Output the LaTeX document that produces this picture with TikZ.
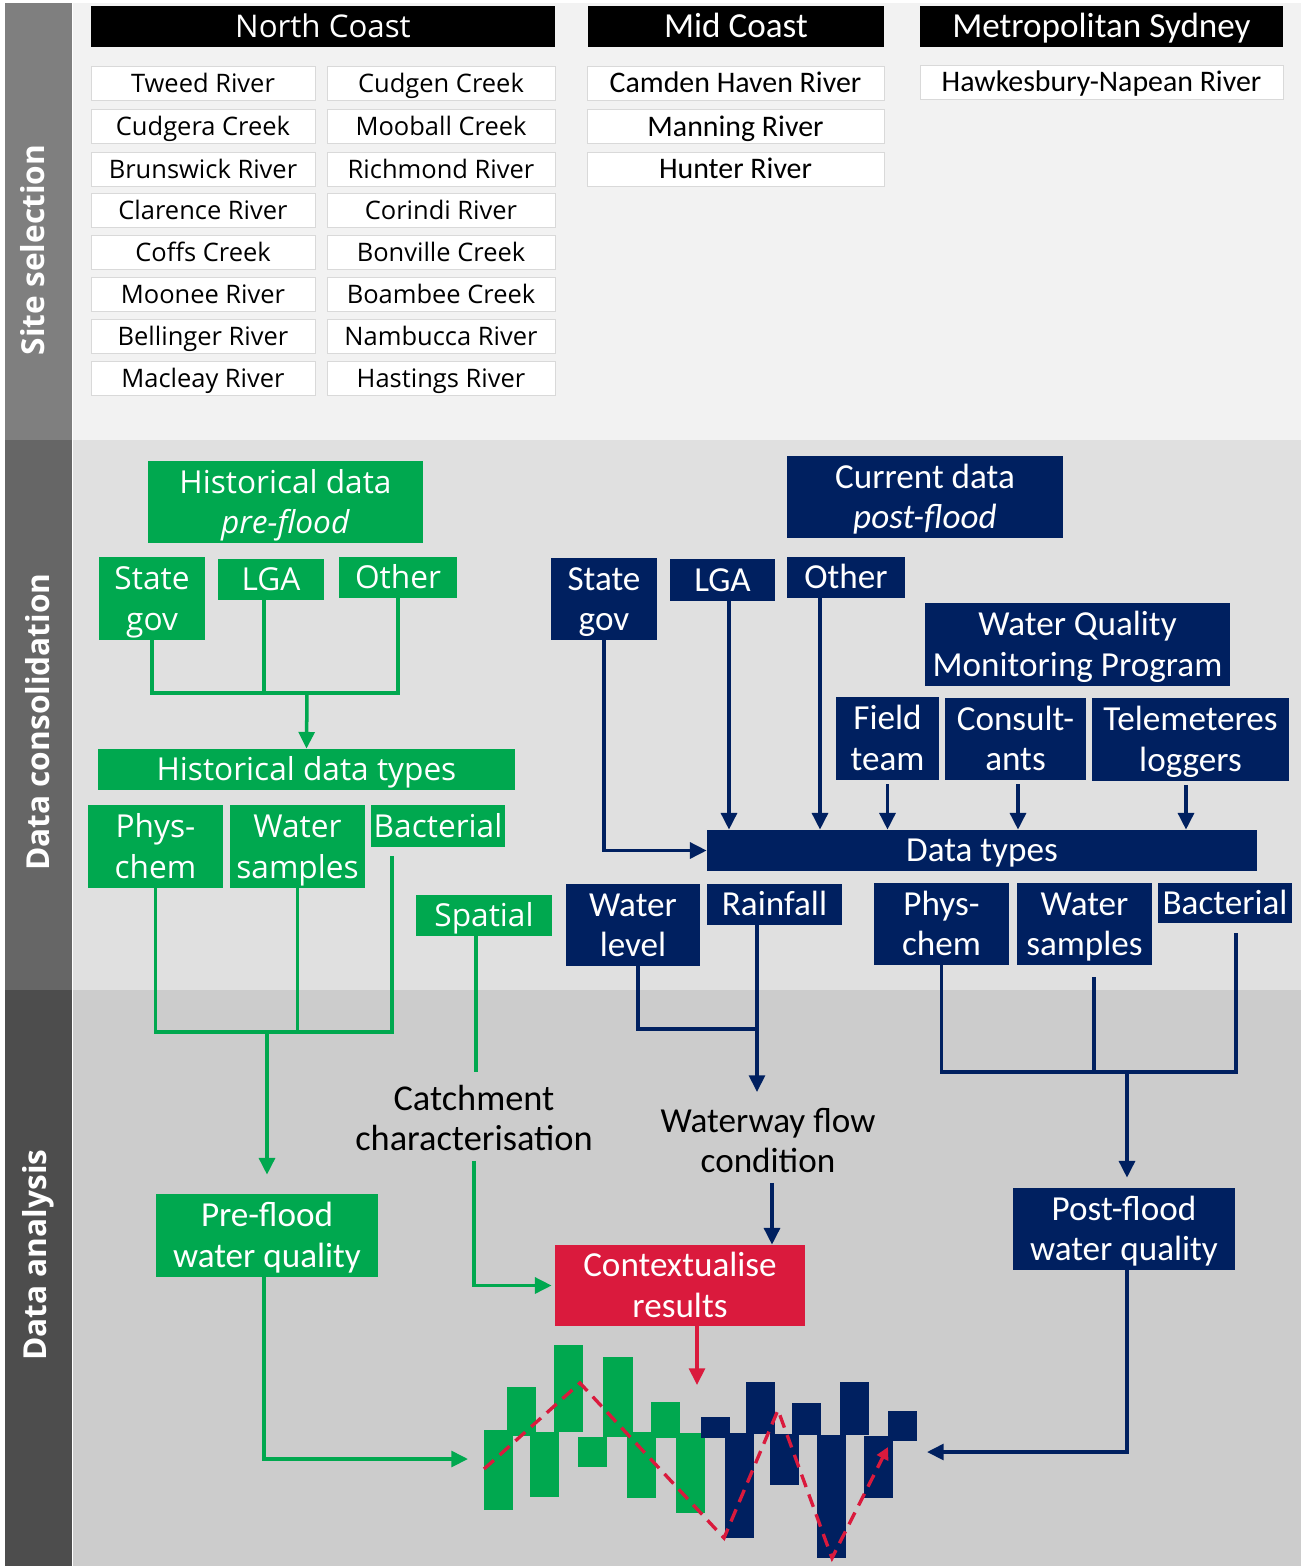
\documentclass[tikz,border=0pt]{standalone}
\usepackage{fontspec}
\setmainfont{Open Sans}
\newfontfamily\narrowfont{Carlito}
\usepackage{tikz}
\usetikzlibrary{positioning, arrows.meta}
\newcommand{\pxu}{0.02cm}

\tikzset{
    wh/.style 2 args={minimum width=#1*\pxu, minimum height=#2*\pxu},
    cell/.style={inner sep=0pt, align=center},
    one/.style={text height=12.85pt, text depth=0pt},
    two/.style={text height=35.85pt, text depth=0pt},
    regf/.style={font=\fontsize{18}{23}\selectfont},
    narf/.style={font=\narrowfont\fontsize{20}{23}\selectfont},
    hdr/.style={cell, one, fill=black, text=white},
    river/.style={cell, fill=white, draw=gray!30, line width=0.5pt, text height=10.4pt, text depth=0pt, font=\fontsize{14.5}{17}\selectfont},
    nriver/.style={river, text height=10.9pt, font=\narrowfont\fontsize{17}{20}\selectfont},
    gbox/.style={cell, fill=cGreen, text=white, regf},
    bbox/.style={cell, fill=cNavy, text=white, narf},
    rbox/.style={cell, fill=cRed, text=white, narf},
    txt/.style={cell, two, inner sep=5.7pt, narf},
    side/.style={rotate=90, text=white, font=\bfseries\fontsize{18}{20}\selectfont},
    gline/.style={draw=cGreen, line width=2pt},
    bline/.style={draw=cNavy, line width=2pt},
    garr/.style={gline, -{Triangle[length=9.5pt, width=9pt]}},
    barr/.style={bline, -{Triangle[length=9.5pt, width=9pt]}},
    rarr/.style={draw=cRed, line width=2pt, -{Triangle[length=9.5pt, width=9pt]}}
}

\begin{document}
\begin{tikzpicture}[x=0.02cm, y=-0.02cm]

\definecolor{cGreen}{HTML}{00A84F}
\definecolor{cNavy}{HTML}{002060}
\definecolor{cRed}{HTML}{DA1A3D}
\definecolor{cPanA}{HTML}{F2F2F2}
\definecolor{cPanB}{HTML}{E0E0E0}
\definecolor{cPanC}{HTML}{CCCCCC}
\definecolor{cSideA}{HTML}{7F7F7F}
\definecolor{cSideB}{HTML}{666666}
\definecolor{cSideC}{HTML}{4D4D4D}

\useasboundingbox (0,0) rectangle (1301,1566);

% columns and rows of the site list
\pgfmathsetmacro{\xA}{203}
\pgfmathsetmacro{\xB}{441}
\pgfmathsetmacro{\xC}{735.5}
\pgfmathsetmacro{\xD}{1101.5}
\pgfmathsetmacro{\yA}{83}
\pgfmathsetmacro{\yB}{126.5}
\pgfmathsetmacro{\yC}{169}
\pgfmathsetmacro{\yD}{210.5}
\pgfmathsetmacro{\yE}{252}
\pgfmathsetmacro{\yF}{294.5}
\pgfmathsetmacro{\yG}{336}
\pgfmathsetmacro{\yH}{378}

% BANDS
\fill[cPanA] (73,3) rectangle (1301,440);
\fill[cPanB] (73,440) rectangle (1301,990);
\fill[cPanC] (73,990) rectangle (1301,1566);
\fill[cSideA] (5,3) rectangle (72,440);
\fill[cSideB] (5,440) rectangle (72,990);
\fill[cSideC] (5,990) rectangle (72,1566);

\node[side] (sSite) at (33,250) {Site selection};
\node[side] (sCons) at (38,722) {Data consolidation};
\node[side] (sAna) at (38,1255) {Data analysis};

% Site selection
\node[hdr, wh={464}{41}, font=\fontsize{17.8}{20}\selectfont] (hNorth) at (323,26.5) {North Coast};
\node[hdr, wh={296}{41}, narf] (hMid) at (736,26.5) {Mid Coast};
\node[hdr, wh={363}{41}, narf] (hMetro) at (1101.5,26.5) {Metropolitan Sydney};

\node[river, wh={224}{34}] (rTweed) at (\xA,\yA) {Tweed River};
\node[river, wh={224}{34}] (rCudgera) at (\xA,\yB) {Cudgera Creek};
\node[river, wh={224}{34}] (rBruns) at (\xA,\yC) {Brunswick River};
\node[river, wh={224}{34}] (rClar) at (\xA,\yD) {Clarence River};
\node[river, wh={224}{34}] (rCoffs) at (\xA,\yE) {Coffs Creek};
\node[river, wh={224}{34}] (rMoonee) at (\xA,\yF) {Moonee River};
\node[river, wh={224}{34}] (rBell) at (\xA,\yG) {Bellinger River};
\node[river, wh={224}{34}] (rMacl) at (\xA,\yH) {Macleay River};

\node[river, wh={228}{34}] (rCudgen) at (\xB,\yA) {Cudgen Creek};
\node[river, wh={228}{34}] (rMoob) at (\xB,\yB) {Mooball Creek};
\node[river, wh={228}{34}] (rRich) at (\xB,\yC) {Richmond River};
\node[river, wh={228}{34}] (rCor) at (\xB,\yD) {Corindi River};
\node[river, wh={228}{34}] (rBonv) at (\xB,\yE) {Bonville Creek};
\node[river, wh={228}{34}] (rBoam) at (\xB,\yF) {Boambee Creek};
\node[river, wh={228}{34}] (rNamb) at (\xB,\yG) {Nambucca River};
\node[river, wh={228}{34}] (rHast) at (\xB,\yH) {Hastings River};

\node[nriver, wh={297}{34}] (rCamden) at (\xC,\yA) {Camden Haven River};
\node[nriver, wh={297}{34}] (rMann) at (\xC,\yB) {Manning River};
\node[nriver, wh={297}{34}] (rHunt) at (\xC,\yC) {Hunter River};
\node[nriver, wh={363}{34}] (rHawk) at (\xD,82) {Hawkesbury-Napean River};

% Historical data (green)
\node[gbox, two, wh={275}{82}] (gHist) at (285.5,502) {Historical data\\\textit{pre-flood}};
\node[gbox, two, wh={106}{83}] (gState) at (152,598.5) {State\\gov};
\node[gbox, one, wh={106}{41}] (gLGA) at (271,579.5) {LGA};
\node[gbox, one, wh={118}{41}] (gOther) at (398,577.5) {Other};
\node[gbox, one, wh={417}{41}] (gTypes) at (306.5,769.5) {Historical data types};
\node[gbox, two, wh={135}{83}] (gPhys) at (155.5,846.5) {Phys-\\chem};
\node[gbox, two, wh={135}{83}] (gWater) at (297.5,846.5) {Water\\samples};
\node[gbox, one, wh={134}{42}] (gBact) at (438,826) {Bacterial};
\node[gbox, one, wh={136}{41}] (gSpatial) at (484,915.5) {Spatial};

% Current data (navy)
\node[bbox, two, wh={276}{82}] (bCur) at (925,497) {Current data\\\textit{post-flood}};
\node[bbox, two, wh={106}{82}] (bState) at (604,599) {State\\gov};
\node[bbox, one, wh={105}{42}] (bLGA) at (722.5,580) {LGA};
\node[bbox, one, wh={118}{41}] (bOther) at (846,577.5) {Other};
\node[bbox, two, wh={305}{83}] (bWQMP) at (1077.5,644.5) {Water Quality\\Monitoring Program};
\node[bbox, two, wh={103}{83}] (bField) at (887.5,738.5) {Field\\team};
\node[bbox, two, wh={141}{82}] (bCons) at (1015.5,739) {Consult-\\ants};
\node[bbox, two, wh={197}{83}] (bTele) at (1190.5,739.5) {Telemeteres\\loggers};
\node[bbox, one, wh={550}{41}] (bTypes) at (982,850.5) {Data types};
\node[bbox, two, wh={134}{82}] (bLevel) at (633,925) {Water\\level};
\node[bbox, one, wh={135}{41}] (bRain) at (774.5,904.5) {Rainfall};
\node[bbox, two, wh={135}{82}] (bPhys) at (941.5,924) {Phys-\\chem};
\node[bbox, two, wh={135}{82}] (bWater) at (1084.5,924) {Water\\samples};
\node[bbox, one, wh={134}{40}] (bBact) at (1225,903) {Bacterial};

% Data analysis
\node[txt, font=\narrowfont\fontsize{20.7}{23}\selectfont] (catch) at (474,1119) {Catchment\\characterisation};
\node[txt] (flow) at (768,1141) {Waterway flow\\condition};
\node[gbox, two, narf, wh={222}{83}] (gPre) at (267,1235.5) {Pre-flood\\water quality};
\node[bbox, two, wh={222}{82}] (bPost) at (1124,1229) {Post-flood\\water quality};
\node[rbox, two, wh={250}{81}] (rCtx) at (680,1285.5) {Contextualise\\results};

% connectors, historical side
\coordinate (gJoin) at (307,693);
\coordinate (gLGAout) at ([xshift=-7*\pxu]gLGA.south);
\draw[gline] (gState.south) |- (gJoin);
\draw[gline] (gOther.south) |- (gJoin);
\draw[gline] (gLGAout) -- (gLGAout |- gJoin);
\draw[garr] (gJoin) -- (gTypes.north);

\coordinate (gBus) at (267,1032);
\coordinate (gBactTop) at (392,856);
\draw[gline] (gPhys.south) |- (gBus);
\draw[gline] (gBactTop) |- (gBus);
\draw[gline] (gWater.south) -- (gWater.south |- gBus);
\draw[garr, shorten >=19*\pxu] (gBus) -- (gBus |- gPre.north);

\coordinate (spEnd) at (476,1072);
\draw[gline] (gSpatial.south -| spEnd) -- (spEnd);
\draw[garr, shorten >=3*\pxu] (catch.south) |- (rCtx.west);

\coordinate (chartL) at (468,1459);
\draw[garr] ([xshift=-3*\pxu]gPre.south) |- (chartL);

% connectors, current side
\draw[barr] (bState.south) |- (bTypes.west);
\coordinate (bLGAout) at ([xshift=6.5*\pxu]bLGA.south);
\coordinate (bOthOut) at ([xshift=-26*\pxu]bOther.south);
\coordinate (bFldOut) at ([yshift=-4*\pxu]bField.south);
\coordinate (bConOut) at ([xshift=2.5*\pxu, yshift=-4*\pxu]bCons.south);
\coordinate (bTelOut) at ([xshift=-4.5*\pxu, yshift=-4*\pxu]bTele.south);
\draw[barr] (bLGAout) -- (bLGAout |- bTypes.north);
\draw[barr] (bOthOut) -- (bOthOut |- bTypes.north);
\draw[barr] (bFldOut) -- (bFldOut |- bTypes.north);
\draw[barr] (bConOut) -- (bConOut |- bTypes.north);
\draw[barr] (bTelOut) -- (bTelOut |- bTypes.north);

\coordinate (bLvlOut) at ([xshift=5*\pxu]bLevel.south);
\coordinate (bRainOut) at ([xshift=-17.5*\pxu]bRain.south);
\coordinate (bJoinA) at (757,1029);
\coordinate (flowIn) at (757,1092);
\draw[bline] (bLvlOut) |- (bJoinA);
\draw[barr] (bRainOut) -- (flowIn);
\coordinate (flowOut) at ([xshift=4*\pxu]flow.south);
\draw[barr] (flowOut) -- (flowOut |- rCtx.north);

\coordinate (bBus) at (1127,1072);
\coordinate (bBactTop) at (1236,933);
\coordinate (bWatOut) at ([xshift=9.5*\pxu, yshift=-12*\pxu]bWater.south);
\draw[bline] (bPhys.south) |- (bBus);
\draw[bline] (bBactTop) |- (bBus);
\draw[bline] (bWatOut) -- (bWatOut |- bBus);
\draw[barr, shorten >=10*\pxu] (bBus) -- (bBus |- bPost.north);

\coordinate (chartR) at (927,1452);
\draw[barr] ([xshift=3*\pxu]bPost.south) |- (chartR);

\coordinate (ctxOut) at ([xshift=17*\pxu]rCtx.south);
\coordinate (chartTop) at (697,1385);
\draw[rarr] (ctxOut) -- (chartTop);

% chart, green bars
\fill[cGreen] (484,1430) rectangle (513,1510);
\fill[cGreen] (507,1387) rectangle (536,1436);
\fill[cGreen] (530,1432) rectangle (559,1497);
\fill[cGreen] (554,1345) rectangle (583,1432);
\fill[cGreen] (578,1437) rectangle (607,1467);
\fill[cGreen] (603,1357) rectangle (633,1437);
\fill[cGreen] (627,1432) rectangle (656,1498);
\fill[cGreen] (651,1402) rectangle (680,1438);
\fill[cGreen] (676,1433) rectangle (705,1513);
% chart, navy bars
\fill[cNavy] (701,1417) rectangle (730,1438);
\fill[cNavy] (725,1433) rectangle (754,1538);
\fill[cNavy] (746,1382) rectangle (775,1434);
\fill[cNavy] (770,1434) rectangle (799,1485);
\fill[cNavy] (792,1403) rectangle (821,1435);
\fill[cNavy] (817,1435) rectangle (846,1558);
\fill[cNavy] (840,1382) rectangle (869,1435);
\fill[cNavy] (864,1436) rectangle (893,1498);
\fill[cNavy] (888,1411) rectangle (917,1441);
% trend
\draw[cRed, line width=1.9pt, dash pattern=on 7.5pt off 4.5pt, -{Triangle[length=7pt, width=7pt]}]
  (484,1469) -- (580,1383) -- (724,1538) -- (778,1410) -- (832,1558) -- (888,1447);

\end{tikzpicture}
\end{document}
